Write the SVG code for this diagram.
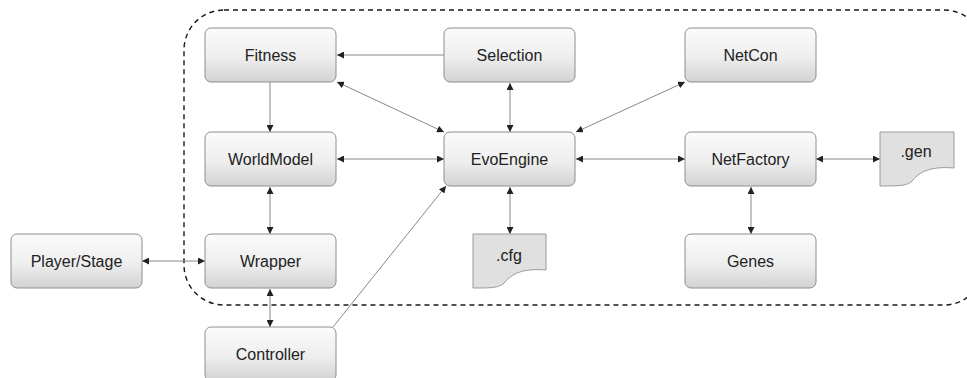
<svg xmlns="http://www.w3.org/2000/svg" width="967" height="378" viewBox="0 0 967 378">
  <style>
    .box { fill: url(#boxGrad); stroke: #8e8e8e; stroke-width: 1; }
    .doc { fill: #e0e0e0; stroke: #9a9a9a; stroke-width: 1; }
    .lbl { font-family: "Liberation Sans", Arial, sans-serif; font-size: 16px; fill: #222; text-anchor: middle; }
    .conn { stroke: #7a7a7a; stroke-width: 0.9; fill: none; }
    .region { fill: none; stroke: #1a1a1a; stroke-width: 1.4; stroke-dasharray: 5 4; }
  </style>
  <defs>
    <linearGradient id="boxGrad" x1="0" y1="0" x2="0" y2="1">
      <stop offset="0" stop-color="#fbfbfb"/>
      <stop offset="0.55" stop-color="#eeeeee"/>
      <stop offset="1" stop-color="#d2d2d2"/>
    </linearGradient>
    <marker id="arr" viewBox="0 0 10 10" refX="10" refY="5" markerWidth="7" markerHeight="7" markerUnits="userSpaceOnUse" orient="auto-start-reverse">
      <path d="M0,0 L10,5 L0,10 z" fill="#222"/>
    </marker>
  </defs>

  <!-- system boundary -->
  <rect class="region" x="184" y="10" width="800" height="295" rx="40" ry="40"/>

  <!-- connectors -->
  <g id="connectors">
    <line class="conn" x1="444" y1="55" x2="337" y2="55" marker-end="url(#arr)"/>
    <line class="conn" x1="337" y1="82" x2="444" y2="132" marker-start="url(#arr)" marker-end="url(#arr)"/>
    <line class="conn" x1="270" y1="82" x2="270" y2="132" marker-end="url(#arr)"/>
    <line class="conn" x1="337" y1="159" x2="444" y2="159" marker-start="url(#arr)" marker-end="url(#arr)"/>
    <line class="conn" x1="510" y1="83" x2="510" y2="132" marker-start="url(#arr)" marker-end="url(#arr)"/>
    <line class="conn" x1="685" y1="82" x2="576" y2="132" marker-start="url(#arr)" marker-end="url(#arr)"/>
    <line class="conn" x1="576" y1="159" x2="685" y2="159" marker-start="url(#arr)" marker-end="url(#arr)"/>
    <line class="conn" x1="816" y1="159" x2="880" y2="159" marker-start="url(#arr)" marker-end="url(#arr)"/>
    <line class="conn" x1="751" y1="187" x2="751" y2="234" marker-start="url(#arr)" marker-end="url(#arr)"/>
    <line class="conn" x1="510" y1="187" x2="510" y2="234" marker-start="url(#arr)" marker-end="url(#arr)"/>
    <line class="conn" x1="270" y1="187" x2="270" y2="234" marker-start="url(#arr)" marker-end="url(#arr)"/>
    <line class="conn" x1="142" y1="261" x2="205" y2="261" marker-start="url(#arr)" marker-end="url(#arr)"/>
    <line class="conn" x1="270" y1="289" x2="270" y2="327" marker-start="url(#arr)" marker-end="url(#arr)"/>
    <line class="conn" x1="333" y1="327" x2="446" y2="186" marker-end="url(#arr)"/>
  </g>

  <g id="fitness">
    <rect class="box" x="205" y="28" width="131" height="54" rx="6"/>
    <text class="lbl" x="270.5" y="61">Fitness</text>
  </g>
  <g id="selection">
    <rect class="box" x="444" y="28" width="131" height="54" rx="6"/>
    <text class="lbl" x="509.5" y="61">Selection</text>
  </g>
  <g id="netcon">
    <rect class="box" x="685" y="28" width="131" height="54" rx="6"/>
    <text class="lbl" x="750.5" y="61">NetCon</text>
  </g>
  <g id="worldmodel">
    <rect class="box" x="205" y="132" width="131" height="54" rx="6"/>
    <text class="lbl" x="270.5" y="165">WorldModel</text>
  </g>
  <g id="evoengine">
    <rect class="box" x="444" y="132" width="131" height="54" rx="6"/>
    <text class="lbl" x="509.5" y="165">EvoEngine</text>
  </g>
  <g id="netfactory">
    <rect class="box" x="685" y="132" width="131" height="54" rx="6"/>
    <text class="lbl" x="750.5" y="165">NetFactory</text>
  </g>
  <g id="gen">
    <path class="doc" d="M880,132 H954 V168 C930,166 920,172 913,180 C908,186 900,186 880,186 Z"/>
    <text class="lbl" x="916" y="157">.gen</text>
  </g>
  <g id="cfg">
    <path class="doc" d="M473,234 H546 V270 C522,268 512,274 505,282 C500,288 492,288 473,288 Z"/>
    <text class="lbl" x="509" y="261">.cfg</text>
  </g>
  <g id="genes">
    <rect class="box" x="685" y="234" width="131" height="54" rx="6"/>
    <text class="lbl" x="750.5" y="267">Genes</text>
  </g>
  <g id="playerstage">
    <rect class="box" x="11" y="234" width="131" height="54" rx="6"/>
    <text class="lbl" x="76.5" y="267">Player/Stage</text>
  </g>
  <g id="wrapper">
    <rect class="box" x="205" y="234" width="131" height="54" rx="6"/>
    <text class="lbl" x="270.5" y="267">Wrapper</text>
  </g>
  <g id="controller">
    <rect class="box" x="205" y="327" width="131" height="54" rx="6"/>
    <text class="lbl" x="270.5" y="360">Controller</text>
  </g>
</svg>
